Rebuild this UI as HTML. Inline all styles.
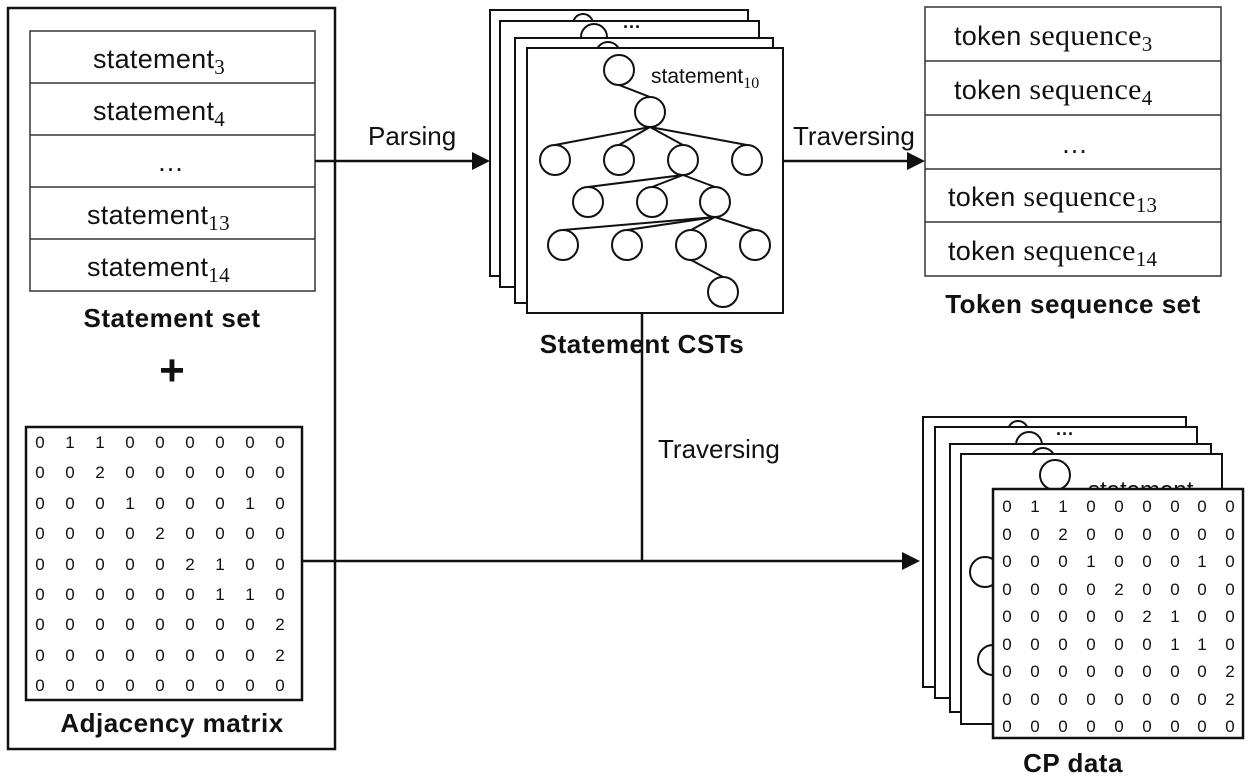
<!DOCTYPE html>
<html><head><meta charset="utf-8"><style>
html,body{margin:0;padding:0;background:#fff;}
svg{display:block;}
text{font-family:"Liberation Sans",sans-serif;fill:#111;}
.s{font-family:"Liberation Serif",serif;}
.m{font-size:17px;fill:#333;}
.b{font-weight:bold;font-size:26px;letter-spacing:0.5px;}
.t{font-size:27px;letter-spacing:0.3px;}
</style></head><body>
<svg width="1250" height="778" viewBox="0 0 1250 778" xmlns="http://www.w3.org/2000/svg">
<rect x="8" y="8" width="327" height="741" fill="none" stroke="#111" stroke-width="2.5"/>
<!-- statement list -->
<g fill="none" stroke="#333" stroke-width="1.5">
<rect x="30" y="31" width="285" height="260"/>
<line x1="30" y1="83" x2="315" y2="83"/><line x1="30" y1="135" x2="315" y2="135"/>
<line x1="30" y1="187" x2="315" y2="187"/><line x1="30" y1="239" x2="315" y2="239"/>
</g>
<g class="t">
<text x="93" y="68">statement<tspan class="s" font-size="21" dy="6">3</tspan></text>
<text x="93" y="120">statement<tspan class="s" font-size="21" dy="6">4</tspan></text>
<text x="157" y="171">…</text>
<text x="87" y="224">statement<tspan class="s" font-size="21" dy="6">13</tspan></text>
<text x="87" y="276">statement<tspan class="s" font-size="21" dy="6">14</tspan></text>
</g>
<text class="b" x="172" y="327" text-anchor="middle">Statement set</text>
<text x="172" y="385" text-anchor="middle" font-size="44" font-weight="bold">+</text>
<!-- adjacency matrix -->
<rect x="26" y="427" width="276" height="273" fill="none" stroke="#111" stroke-width="2.5"/>
<g class="m" text-anchor="middle">
<text x="40 70 100 130 160 190 220 250 280" y="448">011000000</text>
<text x="40 70 100 130 160 190 220 250 280" y="478">002000000</text>
<text x="40 70 100 130 160 190 220 250 280" y="509">000100010</text>
<text x="40 70 100 130 160 190 220 250 280" y="539">000020000</text>
<text x="40 70 100 130 160 190 220 250 280" y="570">000002100</text>
<text x="40 70 100 130 160 190 220 250 280" y="600">000000110</text>
<text x="40 70 100 130 160 190 220 250 280" y="630">000000002</text>
<text x="40 70 100 130 160 190 220 250 280" y="661">000000002</text>
<text x="40 70 100 130 160 190 220 250 280" y="691">000000000</text>
</g>
<text class="b" x="172" y="732" text-anchor="middle" font-size="27">Adjacency matrix</text>
<!-- CST stack -->
<g fill="#fff" stroke="#111" stroke-width="2">
<rect x="490" y="10" width="258" height="266"/>
<circle cx="583" cy="24" r="10"/>
<rect x="500" y="21" width="259" height="266"/>
<circle cx="594" cy="37" r="13"/>
<rect x="515" y="38" width="258" height="265"/>
<circle cx="608" cy="54" r="12"/>
<rect x="527" y="48" width="256" height="265"/>
</g>
<text x="623" y="33" font-size="18" font-weight="bold">···</text>
<g stroke="#111" stroke-width="2" fill="none">
<line x1="619" y1="85" x2="650" y2="97"/>
<line x1="650" y1="127" x2="555" y2="145"/><line x1="650" y1="127" x2="619" y2="145"/>
<line x1="650" y1="127" x2="683" y2="145"/><line x1="650" y1="127" x2="747" y2="145"/>
<line x1="683" y1="175" x2="588" y2="187"/><line x1="683" y1="175" x2="652" y2="187"/><line x1="683" y1="175" x2="715" y2="187"/>
<line x1="715" y1="217" x2="563" y2="230"/><line x1="715" y1="217" x2="627" y2="230"/><line x1="715" y1="217" x2="691" y2="230"/><line x1="715" y1="217" x2="755" y2="230"/>
<line x1="691" y1="260" x2="723" y2="277"/>
</g>
<g stroke="#111" stroke-width="2" fill="none">
<circle cx="619" cy="70" r="15"/><circle cx="650" cy="112" r="15"/>
<circle cx="555" cy="160" r="15"/><circle cx="619" cy="160" r="15"/><circle cx="683" cy="160" r="15"/><circle cx="747" cy="160" r="15"/>
<circle cx="588" cy="202" r="15"/><circle cx="652" cy="202" r="15"/><circle cx="715" cy="202" r="15"/>
<circle cx="563" cy="245" r="15"/><circle cx="627" cy="245" r="15"/><circle cx="691" cy="245" r="15"/><circle cx="755" cy="245" r="15"/>
<circle cx="723" cy="292" r="15"/>
</g>
<text x="651" y="83" font-size="21">statement<tspan class="s" font-size="16" dy="5">10</tspan></text>
<text class="b" x="642" y="353" text-anchor="middle" font-size="27">Statement CSTs</text>
<!-- token sequence -->
<g fill="none" stroke="#333" stroke-width="1.5">
<rect x="925" y="7" width="296" height="269"/>
<line x1="925" y1="61" x2="1221" y2="61"/><line x1="925" y1="115" x2="1221" y2="115"/>
<line x1="925" y1="169" x2="1221" y2="169"/><line x1="925" y1="222" x2="1221" y2="222"/>
</g>
<g class="t">
<text x="954" y="45">token <tspan class="s" font-size="30">sequence</tspan><tspan class="s" font-size="21" dy="6">3</tspan></text>
<text x="954" y="99">token <tspan class="s" font-size="30">sequence</tspan><tspan class="s" font-size="21" dy="6">4</tspan></text>
<text x="1061" y="153">…</text>
<text x="948" y="206">token <tspan class="s" font-size="30">sequence</tspan><tspan class="s" font-size="21" dy="6">13</tspan></text>
<text x="948" y="260">token <tspan class="s" font-size="30">sequence</tspan><tspan class="s" font-size="21" dy="6">14</tspan></text>
</g>
<text class="b" x="1073" y="313" text-anchor="middle" font-size="26">Token sequence set</text>
<!-- connectors -->
<g stroke="#111" stroke-width="2.5" fill="none">
<line x1="315" y1="161" x2="478" y2="161"/>
<line x1="783" y1="161" x2="912" y2="161"/>
<line x1="642" y1="313" x2="642" y2="561"/>
<line x1="302" y1="561" x2="906" y2="561"/>
</g>
<g fill="#111">
<polygon points="490,161 472,152 472,170"/>
<polygon points="925,161 907,152 907,170"/>
<polygon points="920,561 902,552 902,570"/>
</g>
<text x="368" y="145" font-size="26">Parsing</text>
<text x="793" y="145" font-size="26">Traversing</text>
<text x="658" y="458" font-size="26">Traversing</text>
<!-- CP stack -->
<g fill="#fff" stroke="#111" stroke-width="2">
<rect x="923" y="417" width="263" height="270"/>
<circle cx="1018" cy="431" r="10"/>
<rect x="935" y="427" width="262" height="271"/>
<circle cx="1029" cy="445" r="13"/>
<rect x="950" y="444" width="261" height="268"/>
<circle cx="1043" cy="460" r="12"/>
<rect x="961" y="454" width="261" height="270"/>
<circle cx="1055" cy="475" r="15"/>
<circle cx="985" cy="572" r="15"/>
<circle cx="993" cy="660" r="15"/>
</g>
<text x="1056" y="440" font-size="18" font-weight="bold">···</text>
<text x="1088" y="498" font-size="24">statement<tspan class="s" font-size="17" dy="4">10</tspan></text>
<rect x="993" y="489" width="250" height="249" fill="#fff" stroke="#111" stroke-width="2.5"/>
<g class="m" text-anchor="middle">
<text x="1007 1035 1063 1091 1119 1147 1175 1202 1230" y="512">011000000</text>
<text x="1007 1035 1063 1091 1119 1147 1175 1202 1230" y="540">002000000</text>
<text x="1007 1035 1063 1091 1119 1147 1175 1202 1230" y="567">000100010</text>
<text x="1007 1035 1063 1091 1119 1147 1175 1202 1230" y="595">000020000</text>
<text x="1007 1035 1063 1091 1119 1147 1175 1202 1230" y="622">000002100</text>
<text x="1007 1035 1063 1091 1119 1147 1175 1202 1230" y="650">000000110</text>
<text x="1007 1035 1063 1091 1119 1147 1175 1202 1230" y="677">000000002</text>
<text x="1007 1035 1063 1091 1119 1147 1175 1202 1230" y="705">000000002</text>
<text x="1007 1035 1063 1091 1119 1147 1175 1202 1230" y="732">000000000</text>
</g>
<text class="b" x="1073" y="772" text-anchor="middle" font-size="27">CP data</text>
</svg>
</body></html>
